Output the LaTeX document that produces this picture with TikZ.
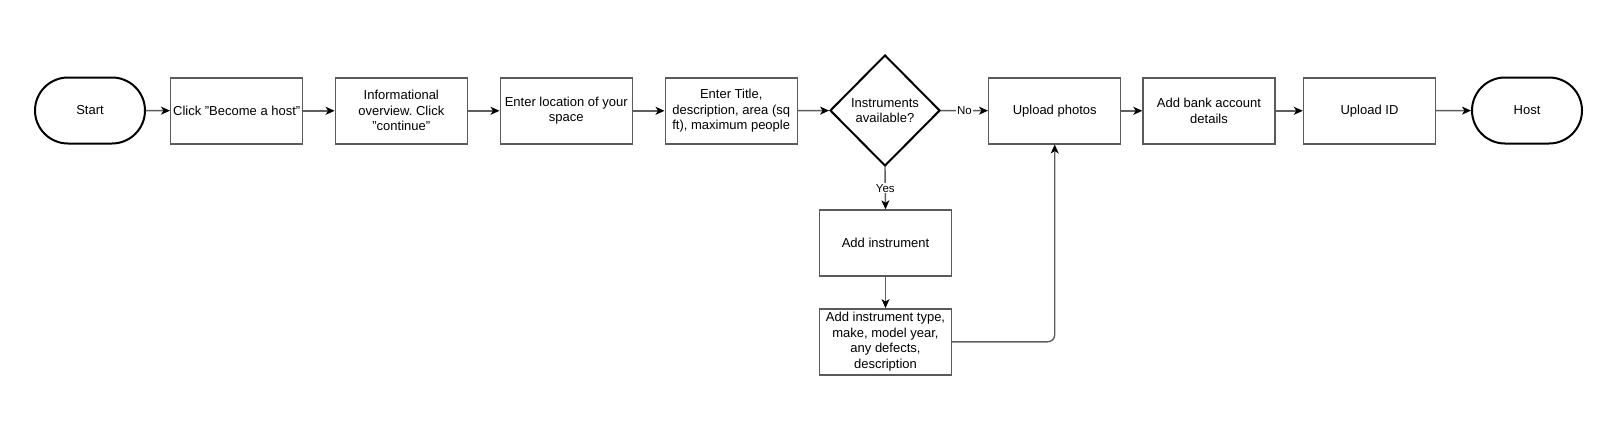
\documentclass[tikz,border=0pt]{standalone}
\usepackage{fontspec}
\setmainfont{Liberation Sans}
\frenchspacing
\usetikzlibrary{shapes.geometric,arrows.meta,positioning}
\definecolor{boxline}{RGB}{90,90,90}
\definecolor{conn}{RGB}{95,95,95}
\tikzset{
  stepbox/.style={draw=boxline, line width=1.4pt, fill=white, minimum width=132pt, minimum height=66pt,
    align=center, inner sep=0pt, font=\fontsize{13pt}{15.5pt}\selectfont},
  term/.style={draw=black, line width=2pt, fill=white, rounded corners=33pt, minimum width=110pt, minimum height=66pt,
    inner sep=0pt, font=\fontsize{13pt}{15.5pt}\selectfont},
  decide/.style={draw=black, line width=2pt, fill=white, diamond, minimum width=110pt, minimum height=111pt,
    inner sep=0pt, align=center, font=\fontsize{13pt}{15.5pt}\selectfont},
  conn/.style={draw=conn, line width=1.4pt, -{Stealth[length=9pt,width=8pt,inset=2.5pt,fill=black,color=black]}},
  lbl/.style={fill=white, inner sep=1pt, font=\fontsize{11.5pt}{13pt}\selectfont}
}
\begin{document}
\begin{tikzpicture}[x=1pt,y=-1pt]
\useasboundingbox[fill=white] (0,0) rectangle (1623,431);
\node[term] (start) at (90,110.5) {Start};
\node[stepbox] (click) at (236.7,110.8) {Click "Become a host"};
\node[stepbox] (info) at (401.3,110.8) {Informational\\overview. Click\\"continue"};
\node[stepbox] (loc) at (566.2,110.8) {Enter location of your\\space};
\node[stepbox] (title) at (731.2,110.8) {Enter Title,\\description, area (sq\\ft), maximum people};
\node[decide] (avail) at (885,110.5) {Instruments\\available?};
\node[stepbox] (photos) at (1054.7,110.8) {Upload photos};
\node[stepbox] (bank) at (1209,110.8) {Add bank account\\details};
\node[stepbox] (uid) at (1369.5,110.8) {Upload ID};
\node[term] (host) at (1527,110.5) {Host};
\node[stepbox] (addinst) at (885.5,243) {Add instrument};
\node[stepbox] (insttype) at (885.5,341.8) {Add instrument type,\\make, model year,\\any defects,\\description};

\draw[conn] (start) -- (click);
\draw[conn] (click) -- (info);
\draw[conn] (info) -- (loc);
\draw[conn] (loc) -- (title);
\draw[conn] (title) -- (avail);
\draw[conn] (avail) -- node[lbl] {No} (photos);
\draw[conn] (photos) -- (bank);
\draw[conn] (bank) -- (uid);
\draw[conn] (uid) -- (host);
\draw[conn] (avail.south) -- node[lbl] {Yes} (addinst.north);
\draw[conn] (addinst) -- (insttype);
\draw[conn, rounded corners=7pt] (insttype.east) -| (photos.south);
\end{tikzpicture}
\end{document}
